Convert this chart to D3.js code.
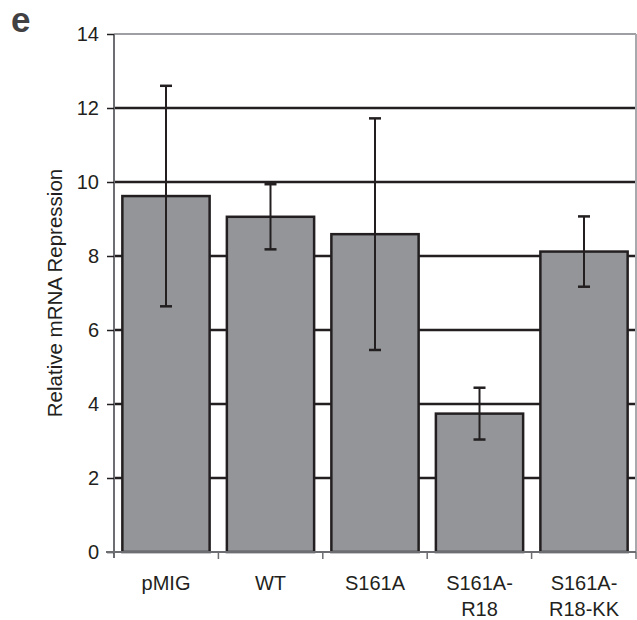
<!DOCTYPE html>
<html>
<head>
<meta charset="utf-8">
<script src="https://cdn.jsdelivr.net/npm/d3@7"></script>
<style>
  body { margin: 0; background: #fff; }
  svg { display: block; }
</style>
</head>
<body>
<svg id="chart" width="637" height="620"></svg>
<script>
// data
var categories = ["pMIG", "WT", "S161A", "S161A-\nR18", "S161A-\nR18-KK"];
var values = [9.62, 9.06, 8.59, 3.74, 8.12];
var errors = [2.98, 0.88, 3.13, 0.70, 0.95];
var yTicks = [0, 2, 4, 6, 8, 10, 12, 14];

var ink = "#231f20";
var svg = d3.select("#chart");
var margin = { top: 34, right: 1, bottom: 68, left: 114 };
var width = 637 - margin.left - margin.right;
var height = 620 - margin.top - margin.bottom;

var g = svg.append("g")
    .attr("transform", "translate(" + margin.left + "," + margin.top + ")");

var x = d3.scaleBand()
    .domain(categories)
    .range([0, width])
    .paddingInner(0.165)
    .paddingOuter(0.08);

var y = d3.scaleLinear()
    .domain([0, 14])
    .range([height, 0]);

// plot frame (top + right) in light gray
g.append("line")
    .attr("x1", 0).attr("x2", width)
    .attr("y1", y(14)).attr("y2", y(14))
    .attr("stroke", "#9d9fa2").attr("stroke-width", 2);
g.append("line")
    .attr("x1", width).attr("x2", width)
    .attr("y1", y(14)).attr("y2", height)
    .attr("stroke", "#a7a9ac").attr("stroke-width", 2);

// gridlines
g.selectAll(".grid")
    .data(yTicks.filter(function (d) { return d > 0 && d < 14; }))
    .enter().append("line")
    .attr("class", "grid")
    .attr("x1", 0).attr("x2", width - 1)
    .attr("y1", function (d) { return y(d); })
    .attr("y2", function (d) { return y(d); })
    .attr("stroke", ink)
    .attr("stroke-width", 2.5);

// bars
g.selectAll(".bar")
    .data(values)
    .enter().append("rect")
    .attr("class", "bar")
    .attr("x", function (d, i) { return x(categories[i]); })
    .attr("y", function (d) { return y(d); })
    .attr("width", x.bandwidth())
    .attr("height", function (d) { return height - y(d); })
    .attr("fill", "#939598")
    .attr("stroke", ink)
    .attr("stroke-width", 2.5);

// error bars
var eb = g.selectAll(".err")
    .data(values)
    .enter().append("g")
    .attr("class", "err")
    .attr("transform", function (d, i) {
        return "translate(" + (x(categories[i]) + x.bandwidth() / 2) + ",0)";
    });

eb.append("line")
    .attr("y1", function (d, i) { return y(d + errors[i]); })
    .attr("y2", function (d, i) { return y(d - errors[i]); })
    .attr("stroke", ink).attr("stroke-width", 2);

eb.selectAll(".cap")
    .data(function (d, i) { return [d + errors[i], d - errors[i]]; })
    .enter().append("line")
    .attr("class", "cap")
    .attr("x1", -6).attr("x2", 6)
    .attr("y1", function (d) { return y(d); })
    .attr("y2", function (d) { return y(d); })
    .attr("stroke", ink).attr("stroke-width", 2.5);

// y axis
var yAxis = g.append("g")
    .call(d3.axisLeft(y).tickValues(yTicks).tickSize(7).tickPadding(8));
yAxis.select(".domain").attr("stroke", "#6d6e71").attr("stroke-width", 2)
    .attr("d", "M0," + y(14) + "V" + (height + 6));
yAxis.selectAll(".tick line").attr("stroke", ink).attr("stroke-width", 1.5);
yAxis.selectAll(".tick text")
    .attr("font-family", "Liberation Sans, Arial, sans-serif")
    .attr("font-size", "20px")
    .attr("fill", ink);

// x axis
var xTickPos = categories.map(function (c, i) { return (i + 1) * width / categories.length; });
var xAxis = g.append("g")
    .attr("transform", "translate(0," + height + ")");
xAxis.append("line")
    .attr("x1", -8).attr("x2", width)
    .attr("stroke", "#6d6e71").attr("stroke-width", 2);
xAxis.selectAll(".xtick")
    .data(xTickPos)
    .enter().append("line")
    .attr("class", "xtick")
    .attr("x1", function (d) { return d; })
    .attr("x2", function (d) { return d; })
    .attr("y1", 0).attr("y2", 7)
    .attr("stroke", "#6d6e71").attr("stroke-width", 1.5);

var xl = xAxis.selectAll(".xlabel")
    .data(categories)
    .enter().append("text")
    .attr("class", "xlabel")
    .attr("text-anchor", "middle")
    .attr("font-family", "Liberation Sans, Arial, sans-serif")
    .attr("font-size", "20px")
    .attr("fill", ink)
    .attr("transform", function (d) {
        return "translate(" + (x(d) + x.bandwidth() / 2) + ",38)";
    });
xl.selectAll("tspan")
    .data(function (d) { return d.split("\n"); })
    .enter().append("tspan")
    .attr("x", 0)
    .attr("dy", function (d, i) { return i === 0 ? 0 : 26; })
    .text(function (d) { return d; });

// y axis title
svg.append("text")
    .attr("transform", "translate(62," + (margin.top + height / 2) + ") rotate(-90)")
    .attr("text-anchor", "middle")
    .attr("font-family", "Liberation Sans, Arial, sans-serif")
    .attr("font-size", "20.5px")
    .attr("fill", ink)
    .text("Relative mRNA Repression");

// panel letter
svg.append("text")
    .attr("x", 11)
    .attr("y", 32)
    .attr("font-family", "Liberation Sans, Arial, sans-serif")
    .attr("font-weight", "bold")
    .attr("font-size", "35px")
    .attr("fill", "#414042")
    .text("e");
</script>
</body>
</html>
